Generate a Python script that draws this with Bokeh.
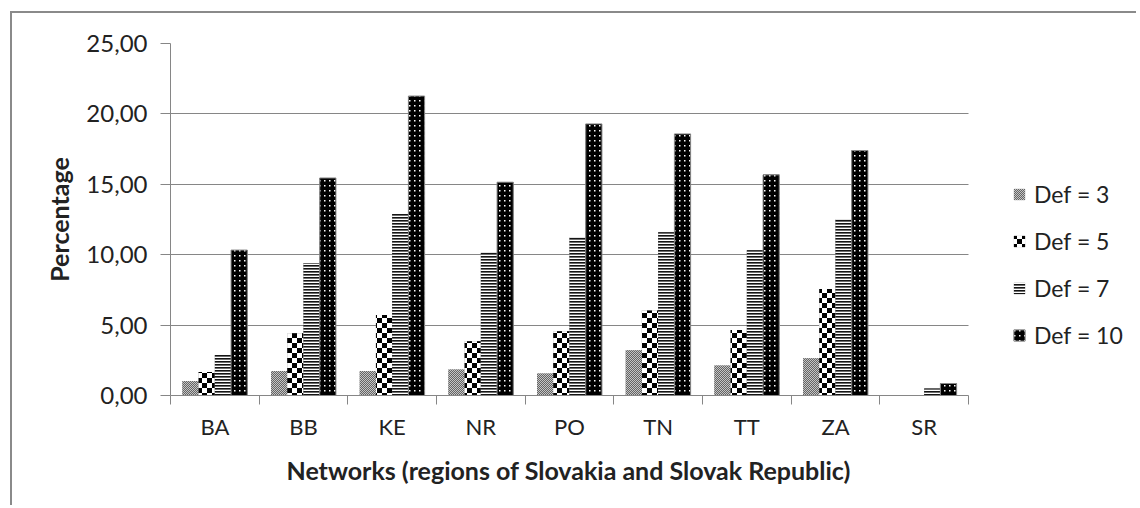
import base64
import numpy as np
from bokeh.plotting import figure
from bokeh.models import FixedTicker, Legend, LegendItem, ImageURLTexture, Range1d, Title
from bokeh.core.properties import value
from bokeh.embed import file_html
from bokeh.resources import INLINE

# ---- data ----
regions = ["BA", "BB", "KE", "NR", "PO", "TN", "TT", "ZA", "SR"]
series_names = ["Def = 3", "Def = 5", "Def = 7", "Def = 10"]
def3 = [1.03, 1.74, 1.74, 1.85, 1.56, 3.22, 2.13, 2.65, 0.00]
def5 = [1.67, 4.43, 5.71, 3.86, 4.57, 6.04, 4.66, 7.57, 0.00]
def7 = [2.87, 9.41, 12.89, 10.13, 11.24, 11.60, 10.32, 12.52, 0.50]
def10 = [10.33, 15.45, 21.27, 15.15, 19.29, 18.58, 15.67, 17.40, 0.85]
y_ticks = [0, 5, 10, 15, 20, 25]
y_tick_labels = ["0,00", "5,00", "10,00", "15,00", "20,00", "25,00"]
x_title = "Networks (regions of Slovakia and Slovak Republic)"
y_title = "Percentage"

series = [def3, def5, def7, def10]

FONT = "Lato"
TXT = "#222222"
GRID = "#868686"


def svg_url(svg):
    return "data:image/svg+xml;base64," + base64.b64encode(svg.encode()).decode()


tex_gray = svg_url('<svg xmlns="http://www.w3.org/2000/svg" width="2" height="2" shape-rendering="crispEdges">'
                   '<rect width="2" height="2" fill="rgb(196,196,196)"/>'
                   '<rect x="0" y="0" width="1" height="1" fill="rgb(100,100,100)"/>'
                   '<rect x="1" y="1" width="1" height="1" fill="rgb(100,100,100)"/></svg>')
tex_checker = svg_url('<svg xmlns="http://www.w3.org/2000/svg" width="10" height="10" shape-rendering="crispEdges">'
                      '<rect width="10" height="10" fill="white"/>'
                      '<rect x="0" y="0" width="5" height="5" fill="black"/>'
                      '<rect x="5" y="5" width="5" height="5" fill="black"/></svg>')
tex_lines = svg_url('<svg xmlns="http://www.w3.org/2000/svg" width="3" height="3" shape-rendering="crispEdges">'
                    '<rect width="3" height="3" fill="white"/>'
                    '<rect x="0" y="0" width="3" height="1" fill="rgb(20,20,20)"/>'
                    '<rect x="0" y="1" width="3" height="1" fill="rgb(110,110,110)"/></svg>')
tex_dots = svg_url('<svg xmlns="http://www.w3.org/2000/svg" width="5" height="5">'
                   '<rect width="5" height="5" fill="black"/>'
                   '<rect x="2" y="2" width="1.5" height="1.5" fill="white"/></svg>')

textures = {
    "grayd": ImageURLTexture(url=tex_gray),
    "checker": ImageURLTexture(url=tex_checker),
    "hlines": ImageURLTexture(url=tex_lines),
    "blackdots": ImageURLTexture(url=tex_dots),
}
styles = [
    dict(pattern="grayd", fill="#929292", line=None),
    dict(pattern="checker", fill="#808080", line=None),
    dict(pattern="hlines", fill="#707070", line=None),
    dict(pattern="blackdots", fill="#000000", line="#8a8a8a"),
]

# layout (pixels)
W, H = 1126, 494
BL, BR, BT, BB = 158, 10, 30, 112
data_px = 798  # width of the plotted category area
frame_w = W - BL - BR
n = len(regions)
x_end = n * frame_w / data_px

p = figure(width=W, height=H, x_range=Range1d(0, x_end), y_range=Range1d(0, 25),
           output_backend="svg", toolbar_location=None,
           min_border_left=BL, min_border_right=BR, min_border_top=BT, min_border_bottom=BB)
p.styles = {"border-left": "2px solid #8a8a8a", "border-top": "2px solid #8a8a8a",
            "margin-left": "10px", "margin-top": "11px"}
p.outline_line_color = None
p.background_fill_color = "white"
p.border_fill_color = "white"
p.xgrid.visible = False
p.ygrid.grid_line_color = GRID
p.ygrid.grid_line_width = 1
p.ygrid.ticker = FixedTicker(ticks=y_ticks)
p.ygrid.cross_bounds = (0, n)

x_base = np.arange(n) + 0.5
bw = 0.183
offsets = [-1.5 * bw, -0.5 * bw, 0.5 * bw, 1.5 * bw]

renderers = []
for vals, off, st in zip(series, offsets, styles):
    r = p.vbar(x=x_base + off, top=vals, bottom=0, width=bw,
               fill_color=st["fill"], line_color=st["line"], line_width=1,
               hatch_pattern=value(st["pattern"]), hatch_extra=textures,
               hatch_scale=10, hatch_color="black", hatch_alpha=1.0)
    renderers.append(r)

# y axis
yax = p.yaxis[0]
yax.ticker = FixedTicker(ticks=y_ticks)
yax.major_label_overrides = {t: lab for t, lab in zip(y_ticks, y_tick_labels)}
yax.axis_line_color = GRID
yax.major_tick_line_color = GRID
yax.major_tick_out = 10
yax.major_tick_in = 0
yax.minor_tick_line_color = None
yax.major_label_text_font = FONT
yax.major_label_text_font_size = "24px"
yax.major_label_text_color = TXT
yax.major_label_standoff = 13
yax.axis_label = y_title
yax.axis_label_text_font = FONT
yax.axis_label_text_font_size = "25px"
yax.axis_label_text_font_style = "bold"
yax.axis_label_text_color = TXT
yax.axis_label_standoff = 9

# x axis
xax = p.xaxis[0]
xax.bounds = (0, n)
xax.ticker = FixedTicker(ticks=list(x_base), minor_ticks=list(range(n + 1)))
xax.major_label_overrides = {float(x): lab for x, lab in zip(x_base, regions)}
xax.axis_line_color = GRID
xax.major_tick_line_color = None
xax.major_tick_out = 0
xax.major_tick_in = 0
xax.minor_tick_line_color = GRID
xax.minor_tick_out = 9
xax.minor_tick_in = 0
xax.major_label_text_font = FONT
xax.major_label_text_font_size = "22px"
xax.major_label_text_color = TXT
xax.major_label_standoff = 8

# x axis title, centred under the category area (not under the legend)
xt = Title(text=x_title, align="left", offset=116, vertical_align="top", standoff=24,
           text_font=FONT, text_font_size="25px", text_font_style="bold", text_color=TXT)
p.add_layout(xt, "below")

legend = Legend(items=[LegendItem(label=nm, renderers=[r]) for nm, r in zip(series_names, renderers)],
                location=(842, 46), orientation="vertical",
                border_line_color=None, background_fill_alpha=0,
                padding=0, margin=0, spacing=19,
                glyph_width=14, glyph_height=14, label_standoff=8,
                label_text_font=FONT, label_text_font_size="23px", label_text_color=TXT)
p.add_layout(legend)

open("out.html", "w").write(file_html(p, INLINE))
